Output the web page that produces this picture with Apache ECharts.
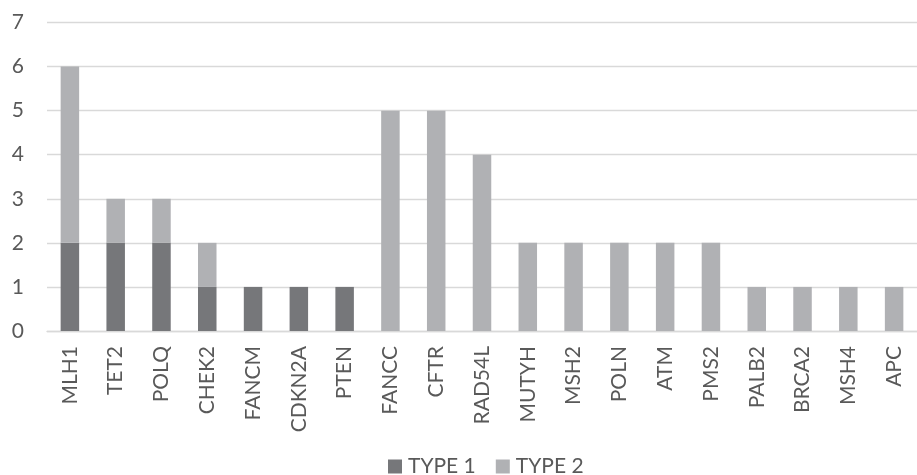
<!DOCTYPE html>
<html>
<head>
<meta charset="utf-8">
<script src="https://cdn.jsdelivr.net/npm/echarts@6/dist/echarts.min.js"></script>
<style>html,body{margin:0;padding:0;background:#fff;}#c{width:917px;height:475px;}</style>
</head>
<body>
<div id="c"></div>
<script>
var categories = ['MLH1','TET2','POLQ','CHEK2','FANCM','CDKN2A','PTEN','FANCC','CFTR','RAD54L','MUTYH','MSH2','POLN','ATM','PMS2','PALB2','BRCA2','MSH4','APC'];
var type1 = [2,2,2,1,1,1,1,0,0,0,0,0,0,0,0,0,0,0,0];
var type2 = [4,1,1,1,0,0,0,5,5,4,2,2,2,2,2,1,1,1,1];
var yTicks = [0,1,2,3,4,5,6,7];

var chart = echarts.init(document.getElementById('c'));
var font = 'Lato';
var fs = 21;
chart.setOption({
  animation: false,
  textStyle: {fontFamily: font},
  grid: {left: 47, top: 22.5, height: 308.5, width: 882, containLabel: false},
  legend: {
    left: 383, top: 451,
    itemWidth: 14, itemHeight: 14, itemGap: 20,
    icon: 'rect',
    textStyle: {fontSize: fs, color: '#595959', fontFamily: font, padding: [0,0,0,1]},
    data: ['TYPE 1','TYPE 2']
  },
  xAxis: {
    type: 'category',
    data: categories,
    axisLine: {show: true, lineStyle: {color: '#d9d9d9', width: 1.3}},
    axisTick: {show: false},
    axisLabel: {rotate: 90, interval: 0, margin: 15, fontSize: fs, color: '#595959', fontFamily: font}
  },
  yAxis: {
    type: 'value',
    min: yTicks[0], max: yTicks[yTicks.length-1], interval: 1,
    axisLine: {show: false},
    axisTick: {show: false},
    axisLabel: {margin: 23, fontSize: fs, color: '#595959', fontFamily: font},
    splitLine: {lineStyle: {color: '#d9d9d9', width: 1.3}}
  },
  series: [
    {name: 'TYPE 1', type: 'bar', stack: 's', data: type1, barWidth: 18.5, itemStyle: {color: '#76777a'}},
    {name: 'TYPE 2', type: 'bar', stack: 's', data: type2, barWidth: 18.5, itemStyle: {color: '#b0b1b4'}}
  ]
});
</script>
</body>
</html>
